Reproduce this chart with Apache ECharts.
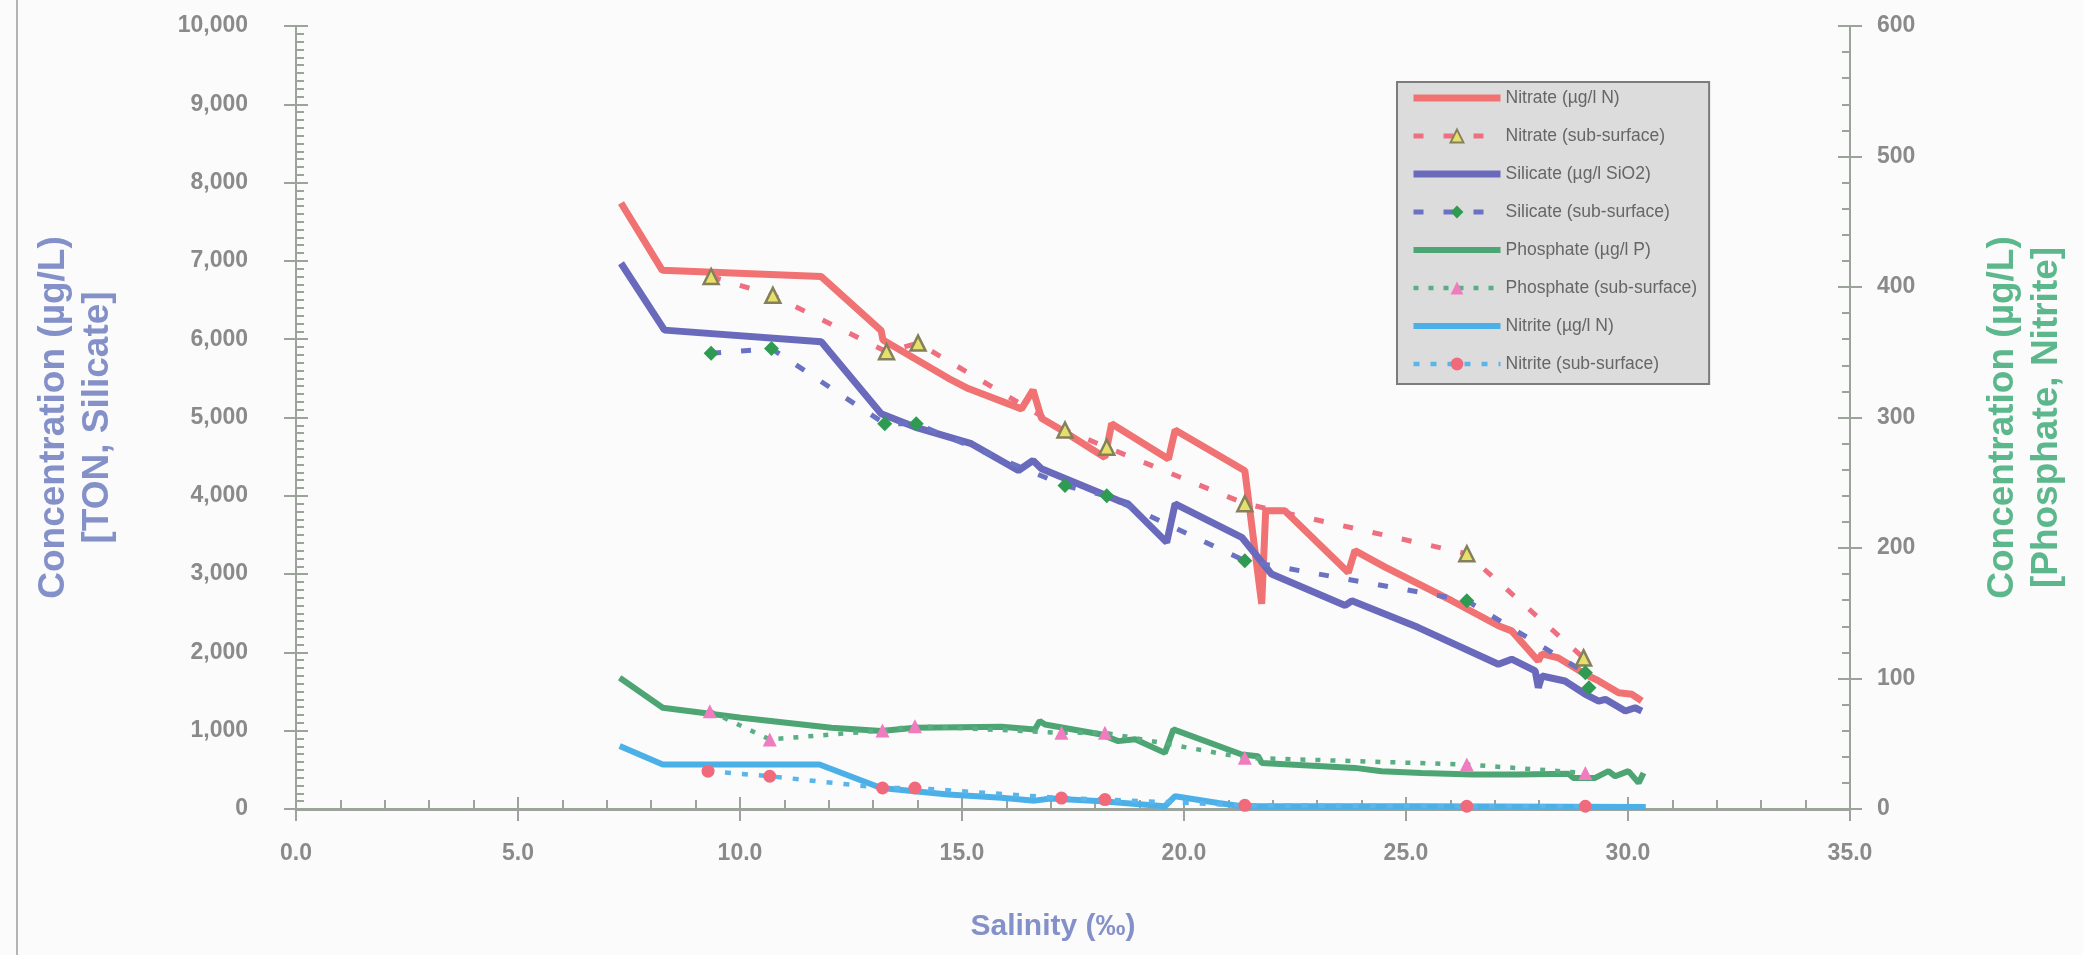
<!DOCTYPE html>
<html>
<head>
<meta charset="utf-8">
<script src="https://cdn.jsdelivr.net/npm/echarts@6/dist/echarts.min.js"></script>
<style>
html,body{margin:0;padding:0;background:#fbfbfb;}
#chart{width:2083px;height:955px;}
</style>
</head>
<body>
<div id="chart"></div>
<script>
// ---------- DATA ----------
const xTicks = [0, 5, 10, 15, 20, 25, 30, 35];
const leftTicks = [0, 1000, 2000, 3000, 4000, 5000, 6000, 7000, 8000, 9000, 10000];
const rightTicks = [0, 100, 200, 300, 400, 500, 600];

const seriesNames = [
  'Nitrate (µg/l N)', 'Nitrate (sub-surface)',
  'Silicate (µg/l SiO2)', 'Silicate (sub-surface)',
  'Phosphate (µg/l P)', 'Phosphate (sub-surface)',
  'Nitrite (µg/l N)', 'Nitrite (sub-surface)'
];

const nitrateSal = [7.32, 8.25, 11.83, 13.18, 13.22, 14.76, 15.14, 16.34, 16.60, 16.79, 17.24, 18.22, 18.37, 19.65, 19.80, 21.37, 21.75, 21.84, 22.27, 23.70, 23.85, 24.53, 26.03, 27.08, 27.38, 27.98, 28.06, 28.43, 29.04, 29.34, 29.79, 30.09, 30.31];
const nitrateVal = [7740, 6880, 6800, 6110, 5990, 5480, 5370, 5110, 5350, 4990, 4840, 4490, 4920, 4470, 4840, 4320, 2620, 3810, 3810, 3020, 3300, 3090, 2660, 2340, 2275, 1890, 1980, 1930, 1720, 1635, 1485, 1465, 1380];

const nitrateSubSal = [9.35, 10.74, 13.30, 14.01, 17.32, 18.26, 21.37, 26.37, 29.00];
const nitrateSubVal = [6800, 6560, 5840, 5950, 4840, 4620, 3900, 3260, 1930];

const silicateSal = [7.32, 8.30, 11.83, 13.18, 13.94, 15.21, 16.27, 16.60, 16.79, 18.52, 18.74, 19.61, 19.80, 21.30, 21.97, 23.63, 23.78, 25.28, 27.08, 27.38, 27.91, 27.98, 28.06, 28.58, 29.04, 29.34, 29.49, 29.94, 30.16, 30.31];
const silicateVal = [6970, 6116, 5966, 5049, 4878, 4665, 4323, 4451, 4345, 3939, 3897, 3405, 3897, 3470, 3001, 2600, 2659, 2317, 1849, 1913, 1763, 1549, 1699, 1635, 1465, 1379, 1401, 1251, 1293, 1251];

const silicateSubSal = [9.35, 10.71, 13.26, 13.97, 17.32, 18.26, 21.37, 26.37, 29.04, 29.12];
const silicateSubVal = [5820, 5880, 4920, 4920, 4130, 4000, 3170, 2660, 1740, 1550];

const phosphateSal = [7.29, 8.26, 10.03, 12.06, 13.18, 13.94, 15.89, 16.64, 16.75, 16.87, 18.14, 18.52, 18.90, 19.57, 19.76, 21.30, 21.67, 21.75, 23.85, 24.45, 25.35, 26.50, 27.50, 28.66, 28.77, 29.26, 29.56, 29.71, 30.01, 30.24, 30.35];
const phosphateVal = [100.6, 77.6, 69.9, 62.2, 59.7, 62.2, 63.0, 61.0, 67.4, 64.8, 57.1, 52.0, 53.5, 43.0, 61.0, 41.8, 40.5, 35.3, 31.5, 29.0, 27.5, 26.5, 26.5, 27.0, 23.8, 23.8, 29.0, 25.1, 29.0, 20.0, 27.6];

const phosphateSubSal = [9.32, 10.67, 13.21, 13.94, 17.24, 18.22, 21.37, 26.37, 29.04];
const phosphateSubVal = [75.0, 53.3, 60.2, 63.5, 58.4, 58.4, 39.2, 34.1, 27.6];

const nitriteSal = [7.29, 8.26, 11.79, 13.18, 14.69, 15.89, 16.64, 17.00, 18.14, 19.57, 19.80, 20.77, 21.30, 25.35, 30.40];
const nitriteVal = [48.2, 34.1, 34.1, 16.1, 11.1, 8.6, 6.4, 8.0, 5.9, 2.1, 9.8, 4.6, 2.1, 2.1, 1.5];

const nitriteSubSal = [9.28, 10.67, 13.21, 13.94, 17.24, 18.22, 21.37, 26.37, 29.04];
const nitriteSubVal = [29.0, 25.1, 16.1, 16.1, 8.4, 7.2, 2.8, 2.1, 2.1];

// ---------- CHART ----------
const zip = (xs, ys) => xs.map((x, i) => [x, ys[i]]);
const FONT = "'Liberation Sans Narrow','Arial Narrow','Liberation Sans',Arial,sans-serif";
const AXIS = '#9ba39b';
const LABEL = '#8a8a8a';

const chart = echarts.init(document.getElementById('chart'), null, {renderer: 'canvas'});

const tickLabel = {color: LABEL, fontFamily: FONT, fontWeight: 'bold', fontSize: 23};

const styles = [
  {line: {color: '#f07272', width: 7}, symbol: 'none'},
  {line: {color: '#ee7080', width: 5, type: [10, 20]}, symbol: 'triangle', size: 15,
   item: {color: '#e6df6a', borderColor: '#85805c', borderWidth: 2.5}},
  {line: {color: '#6a6abd', width: 7}, symbol: 'none'},
  {line: {color: '#6a72c4', width: 5, type: [10, 20]}, symbol: 'diamond', size: 15, item: {color: '#2f9a52'}},
  {line: {color: '#4ea574', width: 6}, symbol: 'none'},
  {line: {color: '#5aae84', width: 4.5, type: [5, 10]}, symbol: 'triangle', size: 14, item: {color: '#f07cc0'}},
  {line: {color: '#4cb0e8', width: 6}, symbol: 'none'},
  {line: {color: '#5ab6ea', width: 4.5, type: [6, 11]}, symbol: 'circle', size: 13, item: {color: '#f06a7c'}}
];
const seriesData = [
  [nitrateSal, nitrateVal, 0], [nitrateSubSal, nitrateSubVal, 0],
  [silicateSal, silicateVal, 0], [silicateSubSal, silicateSubVal, 0],
  [phosphateSal, phosphateVal, 2], [phosphateSubSal, phosphateSubVal, 2],
  [nitriteSal, nitriteVal, 2], [nitriteSubSal, nitriteSubVal, 2]
];

const series = seriesData.map((d, i) => {
  const s = styles[i];
  return {
    name: seriesNames[i], type: 'line', xAxisIndex: 0, yAxisIndex: d[2],
    data: zip(d[0], d[1]),
    symbol: s.symbol, symbolSize: s.size || 0, showSymbol: s.symbol !== 'none',
    lineStyle: s.line,
    itemStyle: s.item || {color: s.line.color}
  };
});

const legendData = seriesNames.map((n, i) => {
  const s = styles[i];
  const item = {name: n, lineStyle: {width: s.line.width}};
  if (s.symbol === 'none') {
    item.itemStyle = {color: 'rgba(0,0,0,0)', borderColor: 'rgba(0,0,0,0)', borderWidth: 0, opacity: 0};
  }
  return item;
});

const option = {
  backgroundColor: '#fbfbfb',
  animation: false,
  grid: {left: 296, right: 233, top: 26, bottom: 146, containLabel: false},
  graphic: [{
    type: 'line', shape: {x1: 17, y1: 0, x2: 17, y2: 955},
    style: {stroke: '#b4b4b4', lineWidth: 2}, silent: true
  }],
  legend: {
    orient: 'vertical', left: 1397, top: 82,
    data: legendData,
    backgroundColor: '#dcdcdc', borderColor: '#7c7c7c', borderWidth: 2, borderRadius: 0,
    padding: [6, 12, 10, 13],
    itemWidth: 87, itemHeight: 16, itemGap: 18,
    textStyle: {fontFamily: FONT, fontSize: 17.5, color: '#666666', lineHeight: 20}
  },
  xAxis: [{
    type: 'value', min: 0, max: 35, interval: 5, position: 'bottom',
    axisLine: {show: true, onZero: false, lineStyle: {color: AXIS, width: 3}},
    axisTick: {show: true, inside: false, length: 12, lineStyle: {color: AXIS, width: 2}},
    axisLabel: Object.assign({}, tickLabel, {margin: 33, formatter: v => v.toFixed(1)}),
    splitLine: {show: false},
    name: 'Salinity (‰)', nameLocation: 'middle', nameGap: 103,
    nameTextStyle: {color: '#8490c8', fontFamily: FONT, fontWeight: 'bold', fontSize: 30, padding: [0, 40, 0, 0]}
  }, {
    type: 'value', min: 0, max: 35, interval: 5, position: 'bottom',
    axisLine: {show: false}, axisLabel: {show: false}, splitLine: {show: false},
    axisTick: {show: true, inside: true, length: 12, lineStyle: {color: AXIS, width: 2}},
    minorTick: {show: true, splitNumber: 5, length: 9, lineStyle: {color: AXIS, width: 2}}
  }],
  yAxis: [{
    type: 'value', min: 0, max: 10000, interval: 1000, position: 'left',
    axisLine: {show: true, lineStyle: {color: AXIS, width: 2}},
    axisTick: {show: true, inside: false, length: 12, lineStyle: {color: AXIS, width: 2}},
    axisLabel: Object.assign({}, tickLabel, {margin: 48, formatter: v => v.toLocaleString('en-US')}),
    splitLine: {show: false},
    name: 'Concentration (µg/L)\n[TON, Silicate]', nameLocation: 'middle', nameGap: 176,
    nameTextStyle: {color: '#8490c8', fontFamily: FONT, fontWeight: 'bold', fontSize: 37, lineHeight: 44}
  }, {
    type: 'value', min: 0, max: 10000, interval: 1000, position: 'left',
    axisLine: {show: false}, axisLabel: {show: false}, splitLine: {show: false},
    axisTick: {show: true, inside: true, length: 12, lineStyle: {color: AXIS, width: 2}},
    minorTick: {show: true, splitNumber: 10, length: 8, lineStyle: {color: AXIS, width: 2}}
  }, {
    type: 'value', min: 0, max: 600, interval: 100, position: 'right',
    axisLine: {show: true, lineStyle: {color: AXIS, width: 2}},
    axisTick: {show: true, inside: false, length: 12, lineStyle: {color: AXIS, width: 2}},
    axisLabel: Object.assign({}, tickLabel, {margin: 27}),
    splitLine: {show: false},
    name: 'Concentration (µg/L)\n[Phosphate, Nitrite]', nameLocation: 'middle', nameGap: 131,
    nameTextStyle: {color: '#5cb88c', fontFamily: FONT, fontWeight: 'bold', fontSize: 37, lineHeight: 44}
  }, {
    type: 'value', min: 0, max: 600, interval: 100, position: 'right',
    axisLine: {show: false}, axisLabel: {show: false}, splitLine: {show: false},
    axisTick: {show: true, inside: true, length: 12, lineStyle: {color: AXIS, width: 2}},
    minorTick: {show: true, splitNumber: 5, length: 8, lineStyle: {color: AXIS, width: 2}}
  }],
  series: series
};
chart.setOption(option);
</script>
</body>
</html>
